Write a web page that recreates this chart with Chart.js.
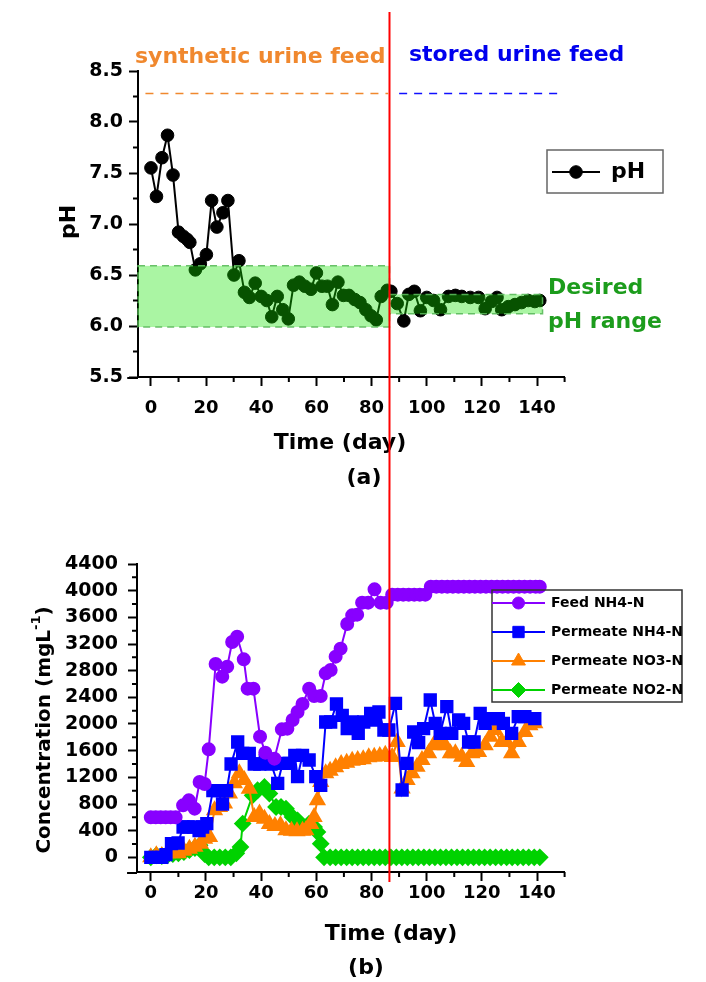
<!DOCTYPE html>
<html>
<head>
<meta charset="utf-8">
<script src="https://cdn.jsdelivr.net/npm/chart.js@4.4.1/dist/chart.umd.min.js"></script>
<style>
  html, body { margin: 0; padding: 0; background: #fff; }
  #wrap { position: relative; width: 706px; height: 982px; }
  canvas { position: absolute; left: 0; }
  #phChart { top: 0; }
  #concChart { top: 490px; }
</style>
</head>
<body>
<div id="wrap">
  <canvas id="phChart" width="706" height="490"></canvas>
  <canvas id="concChart" width="706" height="492"></canvas>
</div>
<script>
// ---- panel (a): pH ----
const phDays = [0, 2, 4, 6, 8, 10, 11.7, 13.1, 14.1, 16.1, 17.9, 20.1, 22, 23.9, 26.1, 27.9, 30.1, 31.9, 33.9, 35.7,
  37.8, 40, 42, 43.8, 45.8, 47.8, 49.8, 51.7, 53.8, 55.8, 58, 60, 62, 64, 65.8, 67.8, 69.8, 71.8, 73.9, 75.8,
  77.9, 79.8, 81.7, 83.5, 85.7, 87, 89.3, 91.7, 93.5, 95.5, 97.7, 100, 102.5, 105, 107.9, 110.4, 112.7, 115.8,
  118.8, 121.2, 123.5, 125.5, 127.2, 129.6, 132, 134.4, 136.8, 139.2, 141];
const phValues = [7.55, 7.27, 7.65, 7.87, 7.48, 6.92, 6.88, 6.85, 6.82, 6.55, 6.61, 6.70, 7.23, 6.97, 7.11, 7.23, 6.50, 6.64, 6.33, 6.28,
  6.42, 6.29, 6.25, 6.09, 6.29, 6.16, 6.07, 6.40, 6.43, 6.39, 6.36, 6.52, 6.39, 6.39, 6.21, 6.43, 6.30, 6.30, 6.26, 6.23,
  6.16, 6.10, 6.06, 6.29, 6.35, 6.34, 6.22, 6.05, 6.31, 6.34, 6.15, 6.28, 6.25, 6.16, 6.29, 6.30, 6.29, 6.28,
  6.28, 6.17, 6.24, 6.28, 6.16, 6.19, 6.21, 6.23, 6.25, 6.24, 6.25];
const phTicks = [5.5, 6.0, 6.5, 7.0, 7.5, 8.0, 8.5];
const phMinor = [5.75, 6.25, 6.75, 7.25, 7.75, 8.25];
const phBandSynthetic = { from: -4.7, to: 86.5, low: 5.99, high: 6.59 };
const phBandStored = { from: 86.5, to: 142, low: 6.12, high: 6.31 };
const feedLabelLevel = 8.28;
const syntheticSpan = [-2, 86];
const storedSpan = [90, 149];

// ---- panel (b): concentrations ----
const feedDays = [0, 1.8, 3.6, 5.4, 7.2, 9, 11.7, 13.8, 15.9, 17.7, 19.5, 21, 23.5, 25.9, 27.7, 29.5, 31.3, 33.7, 35.1, 37.2,
  39.6, 41.5, 44.8, 47.5, 49.5, 51.4, 53.2, 55, 57.4, 59.2, 61.6, 63.4, 65.2, 67, 68.8, 71.2, 73, 74.8, 76.6, 78.8,
  81.1, 83.3, 85.5, 87.5, 89.5, 91.5, 93.5, 95.5, 97.5, 99.5, 101.5, 103.5, 105.5, 107.5, 109.5, 111.5, 113.5, 115.5,
  117.5, 119.5, 121.5, 123.5, 125.5, 127.5, 129.5, 131.5, 133.5, 135.5, 137.5, 139.5, 141];
const feedNH4 = [600, 600, 600, 600, 600, 600, 780, 855, 730, 1130, 1100, 1620, 2900, 2710, 2860, 3230, 3310, 2970, 2530, 2530,
  1810, 1570, 1480, 1920, 1930, 2060, 2180, 2300, 2530, 2420, 2420, 2760, 2810, 3010, 3130, 3500, 3630, 3640, 3820, 3820,
  4020, 3820, 3820, 3940, 3940, 3940, 3940, 3940, 3940, 3940, 4060, 4060, 4060, 4060, 4060, 4060, 4060, 4060,
  4060, 4060, 4060, 4060, 4060, 4060, 4060, 4060, 4060, 4060, 4060, 4060, 4060];

const permNH4Days = [0, 2, 4, 5.5, 7.5, 9.9, 11.7, 13.5, 15.5, 17.5, 18.8, 20.3, 22.5, 24.3, 26, 27.5, 29.1, 31.5, 33.3, 35.7,
  37.5, 39.5, 41.5, 43.6, 46, 47.8, 50.2, 52.2, 53.2, 55, 57.4, 59.8, 61.6, 63.4, 65.2, 67.3, 69.4, 71.2, 73, 75.2,
  77.2, 79.7, 81.5, 82.7, 84.5, 86.3, 88.7, 91.1, 92.9, 95.3, 97.1, 98.9, 101.3, 103.1, 104.9, 107.3, 109.1, 111.6,
  113.4, 115.2, 117.2, 119.4, 121.2, 123.6, 126, 127.8, 130.8, 133.2, 135.6, 139.2];
const permNH4 = [0, 0, 0, 40, 205, 215, 455, 455, 455, 400, 455, 505, 1000, 1000, 800, 1000, 1400, 1730, 1560, 1560,
  1400, 1400, 1450, 1400, 1110, 1410, 1410, 1530, 1210, 1530, 1460, 1210, 1080, 2030, 2030, 2300, 2130, 1930, 2030, 1860,
  2030, 2160, 2060, 2180, 1910, 1910, 2310, 1010, 1410, 1880, 1720, 1930, 2360, 2010, 1860, 2260, 1860, 2060,
  2010, 1730, 1730, 2160, 2010, 2080, 2080, 2010, 1860, 2110, 2110, 2080];

const permNO3Days = [0, 2, 4, 6, 8, 10, 12, 14, 16, 18, 19.5, 21.3, 23.1, 24.9, 26.7, 28.5, 30.3, 32.1, 33.9, 35.7,
  37.5, 39.4, 41.2, 43, 45, 47, 49, 51, 53, 55, 56.2, 58, 59.2, 60.4, 61.6, 63.4, 65, 67, 69, 71,
  73, 75, 77, 79, 81, 83, 85, 87.5, 89.3, 91.1, 92.9, 94.7, 96.5, 98.3, 100.7, 102.5, 104.9, 106.7, 108.6, 110.4,
  112.7, 114.5, 116.4, 118.8, 121.2, 123, 124.8, 127.2, 129, 130.8, 133.2, 135.6, 137.4, 139.2];
const permNO3 = [0, 30, 20, 60, 60, 60, 100, 130, 160, 205, 280, 305, 706, 755, 806, 956, 1110, 1260, 1160, 1030,
  605, 656, 580, 500, 470, 480, 405, 400, 390, 400, 405, 500, 605, 856, 1130, 1260, 1300, 1350, 1400, 1420,
  1450, 1460, 1470, 1500, 1510, 1520, 1540, 1506, 1731, 1031, 1160, 1260, 1360, 1460, 1560, 1680, 1730, 1680, 1560, 1560,
  1510, 1430, 1560, 1580, 1680, 1810, 1910, 1730, 1730, 1560, 1730, 1880, 1980, 2010];

const permNO2Days = [0, 2, 4, 6, 8, 10, 12, 14, 16, 17.7, 19.5, 21, 23, 25, 27, 29, 31, 32.5, 33.3, 36.9,
  38.7, 41.2, 43, 45.4, 47.2, 49, 51.4, 53.2, 55, 57.4, 59.2, 60.4, 61.6, 62.8, 65, 67, 69, 71, 73, 75,
  77, 79, 81, 83, 85, 87, 89, 91, 93, 95, 97, 99, 101, 103, 105, 107, 109, 111, 113, 115, 117, 119,
  121, 123, 125, 127, 129, 131, 133, 135, 137, 139, 141];
const permNO2 = [0, 30, 20, 30, 50, 60, 80, 110, 140, 180, 50, 0, 0, 0, 0, 0, 60, 155, 506, 930,
  1006, 1056, 956, 755, 755, 730, 605, 555, 455, 505, 455, 380, 205, 0, 0, 0, 0, 0, 0, 0,
  0, 0, 0, 0, 0, 0, 0, 0, 0, 0, 0, 0, 0, 0, 0, 0, 0, 0, 0, 0, 0, 0,
  0, 0, 0, 0, 0, 0, 0, 0, 0, 0, 0];

const concTicks = [0, 400, 800, 1200, 1600, 2000, 2400, 2800, 3200, 3600, 4000, 4400];
const concMinor = [200, 600, 1000, 1400, 1800, 2200, 2600, 3000, 3400, 3800, 4200];
const dayTicks = [0, 20, 40, 60, 80, 100, 120, 140];
const dayMinor = [10, 30, 50, 70, 90, 110, 130, 150];
const switchDay = 86.5;
const axisStartDay = -8.6;

const FONT = '"DejaVu Sans", sans-serif';
Chart.defaults.font.family = FONT;
Chart.defaults.font.weight = 'bold';
Chart.defaults.color = '#000';
Chart.defaults.animation = false;

const xy = (xs, ys) => xs.map((x, i) => ({ x, y: ys[i] }));
const H = Chart.helpers;

function marker(ctx, style, r, x, y) {
  if (H && H.drawPoint) {
    H.drawPoint(ctx, { pointStyle: style, radius: r, rotation: 0, borderWidth: 1 }, x, y);
  } else {
    ctx.beginPath(); ctx.arc(x, y, r, 0, Math.PI * 2); ctx.fill();
  }
}

// minor ticks + x axis stub to the left of the y axis
const minorTicks = {
  id: 'minorTicks',
  afterDraw(chart, args, o) {
    const { ctx, chartArea: a, scales: { x, y } } = chart;
    ctx.save();
    ctx.strokeStyle = '#000';
    ctx.lineWidth = 2;
    ctx.beginPath();
    o.x.forEach(v => { const p = x.getPixelForValue(v); ctx.moveTo(p, a.bottom); ctx.lineTo(p, a.bottom + 5); });
    o.y.forEach(v => { const p = y.getPixelForValue(v); ctx.moveTo(a.left, p); ctx.lineTo(a.left - 5, p); });
    ctx.moveTo(x.getPixelForValue(axisStartDay), a.bottom + 1);
    ctx.lineTo(a.left, a.bottom + 1);
    ctx.stroke();
    ctx.restore();
  }
};

const texts = {
  id: 'texts',
  afterDraw(chart, args, o) {
    const ctx = chart.ctx;
    ctx.save();
    o.items.forEach(t => {
      ctx.font = 'bold ' + t.size + 'px ' + FONT;
      ctx.fillStyle = t.color || '#000';
      ctx.textAlign = t.align || 'center';
      ctx.textBaseline = t.base || 'middle';
      ctx.fillText(t.text, t.x, t.y);
    });
    if (o.yTitle) {
      const t = o.yTitle;
      ctx.translate(t.x, t.y);
      ctx.rotate(-Math.PI / 2);
      ctx.textBaseline = 'middle';
      ctx.textAlign = 'left';
      ctx.fillStyle = '#000';
      ctx.font = 'bold ' + t.size + 'px ' + FONT;
      const w1 = ctx.measureText(t.text).width;
      ctx.font = 'bold ' + t.supSize + 'px ' + FONT;
      const w2 = t.sup ? ctx.measureText(t.sup).width : 0;
      ctx.font = 'bold ' + t.size + 'px ' + FONT;
      const w3 = t.sup ? ctx.measureText(')').width : 0;
      let cx = -(w1 + w2 + w3) / 2;
      ctx.fillText(t.text, cx, 0);
      cx += w1;
      if (t.sup) {
        ctx.font = 'bold ' + t.supSize + 'px ' + FONT;
        ctx.fillText(t.sup, cx, -8);
        cx += w2;
        ctx.font = 'bold ' + t.size + 'px ' + FONT;
        ctx.fillText(')', cx, 0);
      }
    }
    ctx.restore();
  }
};

const legendBox = {
  id: 'legendBox',
  afterDraw(chart, args, o) {
    const ctx = chart.ctx;
    ctx.save();
    ctx.strokeStyle = o.border;
    ctx.lineWidth = 1.5;
    ctx.strokeRect(o.box[0], o.box[1], o.box[2], o.box[3]);
    o.entries.forEach((e, i) => {
      const ds = chart.data.datasets[e.index];
      const y = o.y0 + i * o.dy;
      ctx.strokeStyle = ds.borderColor;
      ctx.fillStyle = ds.backgroundColor;
      ctx.lineWidth = 2;
      ctx.beginPath(); ctx.moveTo(o.lineX[0], y); ctx.lineTo(o.lineX[1], y); ctx.stroke();
      ctx.lineWidth = 1;
      marker(ctx, ds.pointStyle, ds.pointRadius, (o.lineX[0] + o.lineX[1]) / 2, y);
      ctx.fillStyle = '#000';
      ctx.font = 'bold ' + o.size + 'px ' + FONT;
      ctx.textAlign = 'left';
      ctx.textBaseline = 'middle';
      ctx.fillText(ds.label, o.textX, y);
    });
    ctx.restore();
  }
};

// translucent green "desired range" band, painted over the points like the original
const phBand = {
  id: 'phBand',
  afterDatasetsDraw(chart) {
    const { ctx, scales: { x, y } } = chart;
    ctx.save();
    [phBandSynthetic, phBandStored].forEach(b => {
      const x0 = x.getPixelForValue(b.from), x1 = x.getPixelForValue(b.to);
      const y0 = y.getPixelForValue(b.high), y1 = y.getPixelForValue(b.low);
      ctx.fillStyle = 'rgba(20, 228, 0, 0.36)';
      ctx.fillRect(x0, y0, x1 - x0, y1 - y0);
      ctx.strokeStyle = 'rgba(90, 185, 90, 0.9)';
      ctx.lineWidth = 1.5;
      ctx.setLineDash([7, 5]);
      ctx.strokeRect(x0, y0, x1 - x0, y1 - y0);
    });
    ctx.restore();
  }
};

const switchLine = {
  id: 'switchLine',
  afterDraw(chart, args, o) {
    const { ctx, scales: { x } } = chart;
    const p = x.getPixelForValue(switchDay);
    ctx.save();
    ctx.strokeStyle = '#ff0000';
    ctx.lineWidth = 2;
    ctx.beginPath(); ctx.moveTo(p, o.top); ctx.lineTo(p, o.bottom); ctx.stroke();
    ctx.restore();
  }
};

function xAxis(min, height, pad) {
  return {
    type: 'linear', min, max: 150,
    afterBuildTicks: s => { s.ticks = dayTicks.map(v => ({ value: v })); },
    afterFit: s => { s.height = height; },
    grid: { drawOnChartArea: false, drawTicks: true, tickLength: 9, tickWidth: 2, tickColor: '#000' },
    border: { display: true, color: '#000', width: 2 },
    ticks: { color: '#000', padding: pad, font: { size: 18, weight: 'bold' }, callback: v => v }
  };
}

new Chart(document.getElementById('phChart'), {
  type: 'line',
  data: {
    datasets: [
      { label: 'pH', data: xy(phDays, phValues), borderColor: '#000', backgroundColor: '#000', borderWidth: 2,
        pointStyle: 'circle', pointRadius: 6.3, pointBorderWidth: 1, tension: 0, clip: false },
      { label: 'synthetic', data: xy(syntheticSpan, [feedLabelLevel, feedLabelLevel]), borderColor: '#f0882e',
        borderWidth: 1.5, borderDash: [8, 7], pointRadius: 0, clip: false },
      { label: 'stored', data: xy(storedSpan, [feedLabelLevel, feedLabelLevel]), borderColor: '#1010ff',
        borderWidth: 1.5, borderDash: [8, 7], pointRadius: 0, clip: false }
    ]
  },
  options: {
    responsive: false,
    layout: { padding: { left: 0, top: 71, right: 141.4, bottom: 0 } },
    plugins: {
      legend: { display: false }, tooltip: { enabled: false },
      minorTicks: { x: dayMinor, y: phMinor },
      legendBox: { box: [547, 150, 116, 43], border: '#666', entries: [{ index: 0 }], y0: 172, dy: 0,
        lineX: [552, 600], textX: 611, size: 22 },
      texts: {
        items: [
          { text: 'synthetic urine feed', x: 135, y: 63, size: 22, color: '#f0882e', align: 'left', base: 'alphabetic' },
          { text: 'stored urine feed', x: 409, y: 61, size: 22, color: '#0000ee', align: 'left', base: 'alphabetic' },
          { text: 'Desired', x: 548, y: 288, size: 22, color: '#1c9c1c', align: 'left' },
          { text: 'pH range', x: 548, y: 322, size: 22, color: '#1c9c1c', align: 'left' },
          { text: 'Time (day)', x: 340, y: 443, size: 22 },
          { text: '(a)', x: 364, y: 478, size: 22 }
        ],
        yTitle: { text: 'pH', x: 69, y: 222, size: 22 }
      },
      switchLine: { top: 12, bottom: 490 }
    },
    scales: {
      x: xAxis(-4.7, 113, 12),
      y: {
        type: 'linear', min: 5.5, max: 8.5,
        afterBuildTicks: s => { s.ticks = phTicks.map(v => ({ value: v })); },
        afterFit: s => { s.width = 138; },
        grid: { drawOnChartArea: false, drawTicks: true, tickLength: 9, tickWidth: 2, tickColor: '#000' },
        border: { display: true, color: '#000', width: 2 },
        ticks: { color: '#000', padding: 6, font: { size: 19, weight: 'bold' }, callback: v => v.toFixed(1) }
      }
    }
  },
  plugins: [phBand, minorTicks, texts, legendBox, switchLine]
});

new Chart(document.getElementById('concChart'), {
  type: 'line',
  data: {
    datasets: [
      { label: 'Feed NH4-N', data: xy(feedDays, feedNH4), borderColor: '#8800ff', backgroundColor: '#8800ff',
        borderWidth: 2, pointStyle: 'circle', pointRadius: 6, tension: 0, clip: false },
      { label: 'Permeate NH4-N', data: xy(permNH4Days, permNH4), borderColor: '#0000ff', backgroundColor: '#0000ff',
        borderWidth: 2, pointStyle: 'rect', pointRadius: 8, tension: 0, clip: false },
      { label: 'Permeate NO3-N', data: xy(permNO3Days, permNO3), borderColor: '#ff8000', backgroundColor: '#ff8000',
        borderWidth: 2, pointStyle: 'triangle', pointRadius: 8, tension: 0, clip: false },
      { label: 'Permeate NO2-N', data: xy(permNO2Days, permNO2), borderColor: '#00d200', backgroundColor: '#00d200',
        borderWidth: 2, pointStyle: 'rectRot', pointRadius: 7.5, tension: 0, clip: false }
    ]
  },
  options: {
    responsive: false,
    layout: { padding: { left: 0, top: 74, right: 141.4, bottom: 0 } },
    plugins: {
      legend: { display: false }, tooltip: { enabled: false },
      minorTicks: { x: dayMinor, y: concMinor },
      legendBox: { box: [492, 100, 190, 112], border: '#333', entries: [{ index: 0 }, { index: 1 }, { index: 2 }, { index: 3 }],
        y0: 113, dy: 29, lineX: [492, 545], textX: 551, size: 14 },
      texts: {
        items: [
          { text: 'Time (day)', x: 391, y: 444, size: 22 },
          { text: '(b)', x: 366, y: 478, size: 22 }
        ],
        yTitle: { text: 'Concentration (mgL', sup: '-1', x: 45, y: 240, size: 20, supSize: 13 }
      },
      switchLine: { top: 0, bottom: 392 }
    },
    scales: {
      x: xAxis(-5, 110, 2),
      y: {
        type: 'linear', min: -220, max: 4400,
        afterBuildTicks: s => { s.ticks = concTicks.map(v => ({ value: v })); },
        afterFit: s => { s.width = 137; },
        grid: { drawOnChartArea: false, drawTicks: true, tickLength: 9, tickWidth: 2, tickColor: '#000' },
        border: { display: true, color: '#000', width: 2 },
        ticks: { color: '#000', padding: 10, font: { size: 19, weight: 'bold' }, callback: v => v }
      }
    }
  },
  plugins: [minorTicks, texts, legendBox, switchLine]
});
</script>
</body>
</html>
